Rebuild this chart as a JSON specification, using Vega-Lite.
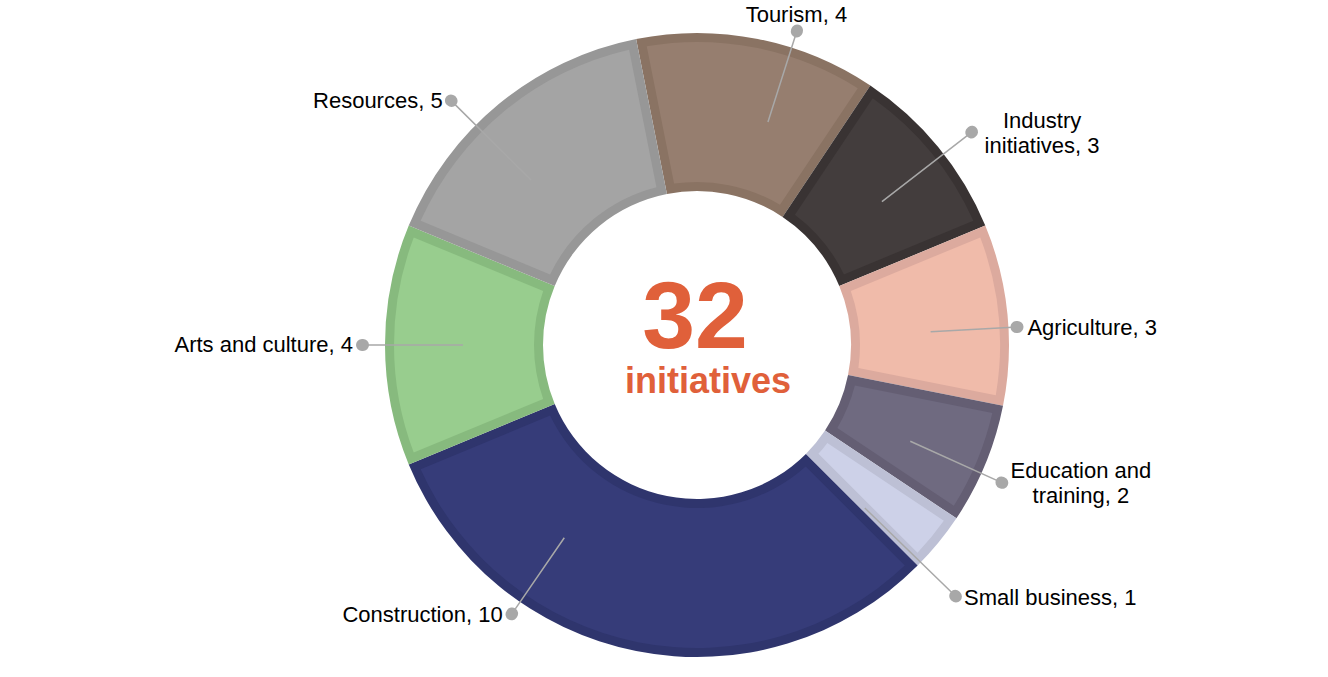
{
  "$schema": "https://vega.github.io/schema/vega-lite/v6.json",
  "description": "Initiatives by sector, donut chart",
  "width": 1262,
  "height": 664,
  "padding": {"left": 66, "top": 13, "right": 0, "bottom": 0},
  "autosize": {"type": "none"},
  "background": "white",
  "config": {"view": {"stroke": null}, "text": {"font": "Liberation Sans"}},
  "params": [
    {"name": "dotTheta", "value": [0.1117, 0.0279, 0.0419, 0.0314, 0.0838, 0.4067, 0, -0.1012]},
    {"name": "dotR", "value": [330, 348, 321, 335, 361, 327, 335, 347]},
    {"name": "lblDx", "value": [35, 90, 2, 79, 12, -130, -14, -45]},
    {"name": "lblDy", "value": [-6, -15, 15, 0, 44, -54, 0, 11]},
    {"name": "lblAlign", "value": ["center", "center", "left", "center", "left", "right", "right", "right"]}
  ],
  "data": {
    "values": [
      {"order": 1, "category": "Tourism", "count": 4, "label": "Tourism, 4"},
      {"order": 2, "category": "Industry initiatives", "count": 3, "label": "Industry\ninitiatives, 3"},
      {"order": 3, "category": "Agriculture", "count": 3, "label": "Agriculture, 3"},
      {"order": 4, "category": "Education and training", "count": 2, "label": "Education and\ntraining, 2"},
      {"order": 5, "category": "Small business", "count": 1, "label": "Small business, 1"},
      {"order": 6, "category": "Construction", "count": 10, "label": "Construction, 10"},
      {"order": 7, "category": "Arts and culture", "count": 4, "label": "Arts and culture, 4"},
      {"order": 8, "category": "Resources", "count": 5, "label": "Resources, 5"}
    ]
  },
  "layer": [
    {
      "encoding": {
        "theta": {
          "field": "count",
          "type": "quantitative",
          "stack": true,
          "scale": {"domain": [0, 32], "range": [-0.19635, 6.08684]}
        },
        "order": {"field": "order", "type": "quantitative"}
      },
      "layer": [
        {
          "mark": {"type": "arc", "radius": 312, "radius2": 154},
          "encoding": {
            "color": {
              "field": "category",
              "type": "nominal",
              "legend": null,
              "scale": {
                "domain": ["Tourism", "Industry initiatives", "Agriculture", "Education and training", "Small business", "Construction", "Arts and culture", "Resources"],
                "range": ["#8A7363", "#393333", "#DCAA9E", "#645E73", "#BDC0D5", "#2F356D", "#87BA7E", "#979797"]
              }
            }
          }
        },
        {
          "mark": {"type": "arc", "radius": 303, "radius2": 163, "padAngle": 0.0523},
          "encoding": {
            "fill": {
              "field": "category",
              "type": "nominal",
              "legend": null,
              "scale": {
                "domain": ["Tourism", "Industry initiatives", "Agriculture", "Education and training", "Small business", "Construction", "Arts and culture", "Resources"],
                "range": ["#967E6F", "#433D3D", "#F0BBAA", "#6F6A80", "#CDD1E8", "#363C79", "#98CD8E", "#A4A4A4"]
              }
            }
          }
        },
        {
          "mark": {
            "type": "arc",
            "radius": {"expr": "dotR[datum.order - 1]"},
            "radius2": 234,
            "padAngle": 3,
            "thetaOffset": {"expr": "dotTheta[datum.order - 1]"},
            "theta2Offset": {"expr": "dotTheta[datum.order - 1]"},
            "fill": "transparent",
            "stroke": "#A8A8A8",
            "strokeWidth": 1.5
          }
        },
        {
          "mark": {
            "type": "arc",
            "radius": {"expr": "dotR[datum.order - 1]"},
            "radius2": {"expr": "dotR[datum.order - 1] - 1"},
            "padAngle": 3,
            "thetaOffset": {"expr": "dotTheta[datum.order - 1]"},
            "theta2Offset": {"expr": "dotTheta[datum.order - 1]"},
            "fill": "transparent",
            "stroke": "#A8A8A8",
            "strokeWidth": 12,
            "strokeCap": "round",
            "strokeJoin": "round"
          }
        },
        {
          "mark": {
            "type": "text",
            "radius": 330,
            "fontSize": 22,
            "lineBreak": "\n",
            "lineHeight": 25,
            "baseline": "middle",
            "color": "#000000",
            "align": {"expr": "lblAlign[datum.order - 1]"},
            "dx": {"expr": "lblDx[datum.order - 1]"},
            "dy": {"expr": "lblDy[datum.order - 1]"}
          },
          "encoding": {"text": {"field": "label", "type": "nominal"}}
        }
      ]
    },
    {
      "mark": {
        "type": "text",
        "fontSize": 95,
        "fontWeight": "bold",
        "color": "#E0603A",
        "align": "center",
        "baseline": "alphabetic",
        "dx": -2,
        "dy": 3
      },
      "encoding": {"text": {"aggregate": "sum", "field": "count", "type": "quantitative"}}
    },
    {
      "transform": [{"aggregate": [{"op": "count", "as": "n"}]}],
      "mark": {
        "type": "text",
        "text": "initiatives",
        "fontSize": 36,
        "fontWeight": "bold",
        "color": "#E0603A",
        "align": "center",
        "baseline": "alphabetic",
        "dx": 11,
        "dy": 48
      }
    }
  ]
}
